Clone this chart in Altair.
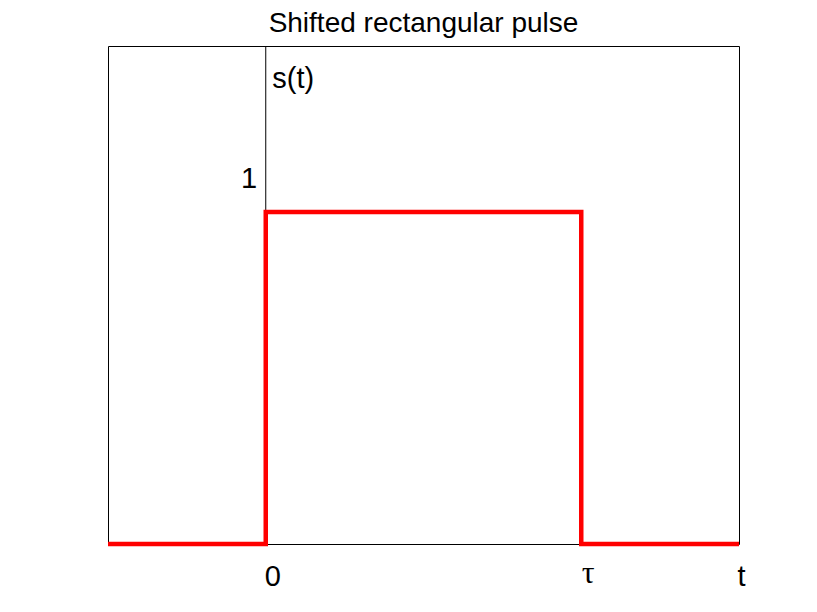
import altair as alt
import pandas as pd

# pulse: 0 before t=0, 1 between 0 and tau (=1), 0 afterwards
t_vals = [-0.5, 0.0, 0.0, 1.0, 1.0, 1.5]
s_vals = [0.0, 0.0, 1.0, 1.0, 0.0, 0.0]
order = list(range(len(t_vals)))

label_text = ["1", "s(t)", "0", "t"]
label_x = [-0.053, 0.087, 0.022, 1.508]
label_y = [1.098, 1.40, -0.10, -0.10]

tau_text = ["τ"]
tau_x = [1.022]
tau_y = [-0.088]

pulse = pd.DataFrame({"t": t_vals, "s": s_vals, "o": order})
labels = pd.DataFrame({"label": label_text, "t": label_x, "s": label_y})
taus = pd.DataFrame({"label": tau_text, "t": tau_x, "s": tau_y})
axis_df = pd.DataFrame({"t": [0.0], "s": [0.0], "s2": [1.5]})

xs = alt.Scale(domain=[-0.5, 1.5], nice=False, zero=False)
ys = alt.Scale(domain=[0, 1.5], nice=False, zero=False)

vline = alt.Chart(axis_df).mark_rule(color="black", strokeWidth=1).encode(
    x=alt.X("t:Q", scale=xs, axis=None),
    y=alt.Y("s:Q", scale=ys, axis=None),
    y2="s2:Q",
)

line = alt.Chart(pulse).mark_line(color="#ff0000", strokeWidth=4.5, clip=False).encode(
    x=alt.X("t:Q", scale=xs, axis=None),
    y=alt.Y("s:Q", scale=ys, axis=None),
    order="o:Q",
)

text = alt.Chart(labels).mark_text(
    font="Liberation Sans", fontSize=29, color="black", clip=False, align="center", baseline="middle"
).encode(
    x=alt.X("t:Q", scale=xs, axis=None),
    y=alt.Y("s:Q", scale=ys, axis=None),
    text="label:N",
)

tau = alt.Chart(taus).mark_text(
    font="Liberation Serif", fontSize=32, color="black", clip=False, align="center", baseline="middle"
).encode(
    x=alt.X("t:Q", scale=xs, axis=None),
    y=alt.Y("s:Q", scale=ys, axis=None),
    text="label:N",
)

chart = alt.layer(vline, line, text, tau).properties(
    width=631,
    height=498,
    background="white",
    title=alt.TitleParams(
        "Shifted rectangular pulse",
        font="Liberation Sans",
        fontSize=28,
        fontWeight="normal",
        color="black",
        anchor="middle",
        offset=8,
    ),
    autosize=alt.AutoSizeParams(type="none"),
    padding={"left": 100, "top": 38, "right": 70, "bottom": 60},
).configure_view(stroke="black", strokeWidth=1)

chart.save("out.html", embed_options={"renderer": "svg", "actions": False})
